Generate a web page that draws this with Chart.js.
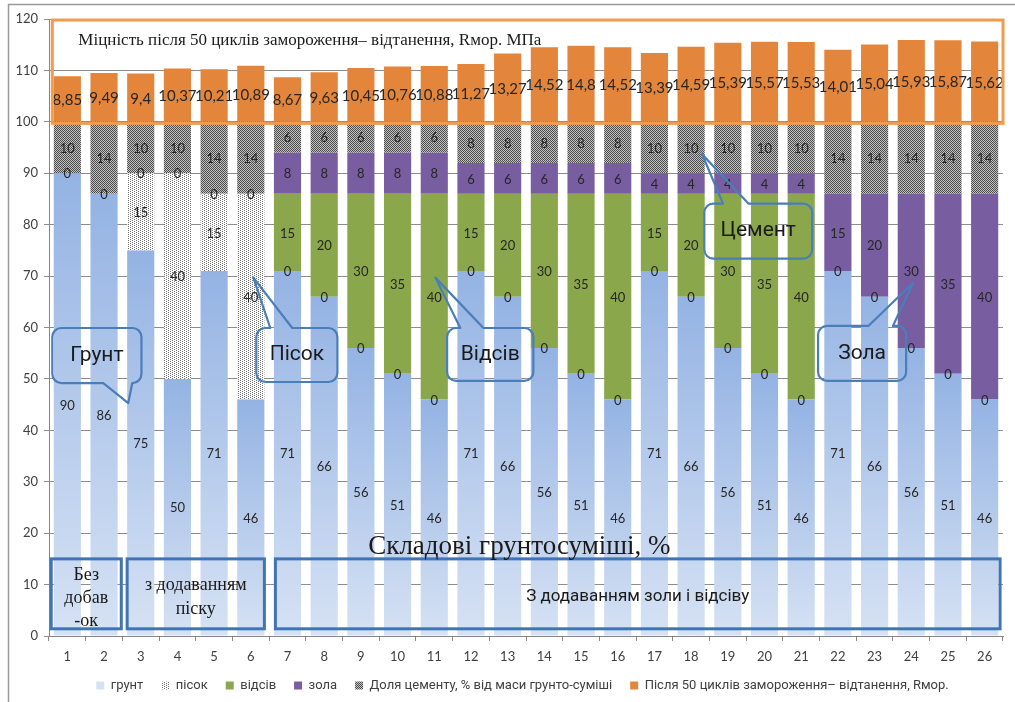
<!DOCTYPE html>
<html><head><meta charset="utf-8">
<script src="https://cdn.jsdelivr.net/npm/chart.js@4/dist/chart.umd.min.js"></script>
<style>html,body{margin:0;padding:0;background:#fff}#wrap{width:1015px;height:702px;position:relative}</style>
</head><body><div id="wrap"><canvas id="c"></canvas></div>
<script>
const categories = ['1','2','3','4','5','6','7','8','9','10','11','12','13','14','15','16','17','18','19','20','21','22','23','24','25','26'];
const grunt  = [90,86,75,50,71,46,71,66,56,51,46,71,66,56,51,46,71,66,56,51,46,71,66,56,51,46];
const pisok  = [0,0,15,40,15,40,0,0,0,0,0,0,0,0,0,0,0,0,0,0,0,0,0,0,0,0];
const vidsiv = [null,null,0,0,0,0,15,20,30,35,40,15,20,30,35,40,15,20,30,35,40,null,null,null,null,null];
const zola   = [null,null,null,null,null,null,8,8,8,8,8,6,6,6,6,6,4,4,4,4,4,15,20,30,35,40];
const cement = [10,14,10,10,14,14,6,6,6,6,6,8,8,8,8,8,10,10,10,10,10,14,14,14,14,14];
const strength = [8.85,9.49,9.4,10.37,10.21,10.89,8.67,9.63,10.45,10.76,10.88,11.27,13.27,14.52,14.8,14.52,13.39,14.59,15.39,15.57,15.53,14.01,15.04,15.93,15.87,15.62];
const seriesNames = ['грунт','пісок','відсів','зола','Доля цементу, % від маси грунто-суміші','Після 50 циклів замороження– відтанення, Rмор.'];
const yMin = 0, yMax = 120, yStep = 10;

const callouts = [
  {text:'Грунт',  box:[-0.41,59.9,2.02,49.2], edge:'bottom', base:[0.98,1.77],  tip:[1.66,45.3]},
  {text:'Пісок',  box:[5.15,59.9,7.36,49.4],  edge:'top',    base:[5.53,6.13],  tip:[5.07,69.7]},
  {text:'Відсів', box:[10.35,59.9,12.7,49.6], edge:'top',    base:[10.71,11.34],tip:[10.03,69.7]},
  {text:'Цемент', box:[17.36,84.1,20.3,73.4], edge:'top',    base:[17.87,18.56],tip:[17.3,93.7]},
  {text:'Зола',   box:[20.46,60.3,22.86,49.6],edge:'top',    base:[21.83,22.5], tip:[23.05,68.7]}
];
const groupBoxes = [
  {box:[-0.44,15,1.47,1.4], lines:['Без','добав','-ок'], dys:[-19,4,27], font:'18px "Liberation Serif", serif'},
  {box:[1.63,15,5.37,1.4],  lines:['з додаванням','піску'], dys:[-9,15], font:'18px "Liberation Serif", serif'},
  {box:[5.67,15,25.42,1.4], lines:['З додаванням золи і відсіву'], dys:[3], font:'17px Roboto, sans-serif'}
];
const strengthBox = {box:[-0.41,119.8,25.5,99.7], title:'Міцність після 50 циклів замороження– відтанення, Rмор. МПа', at:[0.3,115.9]};
const axisTitle = {text:'Складові грунтосуміші, %', at:[12.32,17.4]};

function makePattern(size, bg, fg, dots){
  const c = document.createElement('canvas'); c.width = c.height = size;
  const x = c.getContext('2d'); x.fillStyle = bg; x.fillRect(0,0,size,size);
  x.fillStyle = fg; dots.forEach(([a,b]) => x.fillRect(a,b,1,1));
  return x.createPattern(c,'repeat');
}
const sandPattern = makePattern(4,'#ffffff','#707070',[[0,0],[2,1],[0,2],[2,3]]);
const cementPattern = makePattern(2,'#c4c4c4','#4a4a4a',[[0,0],[1,1]]);

function gruntColor(ctx){
  const chart = ctx.chart;
  if (ctx.type !== 'data' || !chart.chartArea || !chart.scales.y) return '#9fbae6';
  const y = chart.scales.y;
  const top = y.getPixelForValue(ctx.raw), bot = y.getPixelForValue(0);
  if (!isFinite(top) || !isFinite(bot) || top === bot) return '#9fbae6';
  const g = chart.ctx.createLinearGradient(0, top, 0, bot);
  g.addColorStop(0,'#94b3e3'); g.addColorStop(1,'#d6e2f4');
  return g;
}

const fmtComma = v => String(v).replace('.', ',');

const valueLabels = {
  id:'valueLabels',
  afterDatasetsDraw(chart){
    const ctx = chart.ctx;
    chart.data.datasets.forEach((ds, di) => {
      const meta = chart.getDatasetMeta(di);
      if (meta.hidden) return;
      meta.data.forEach((bar, i) => {
        const v = ds.data[i];
        if (v === null || v === undefined) return;
        const p = bar.getProps(['x','y','base'], true);
        ctx.save();
        ctx.font = di === 5 ? '15px Lato, sans-serif' : '13px Lato, sans-serif';
        ctx.fillStyle = '#262626';
        ctx.textAlign = 'center'; ctx.textBaseline = 'middle';
        ctx.fillText(di === 5 ? fmtComma(v) : String(v), p.x, (p.y + p.base)/2 + 1);
        ctx.restore();
      });
    });
  }
};

function X(chart, v){ const s = chart.scales.x; const p0 = s.getPixelForValue(0), p1 = s.getPixelForValue(1); return p0 + v*(p1-p0); }
function Y(chart, v){ return chart.scales.y.getPixelForValue(v); }

function roundRectPath(ctx, x1, y1, x2, y2, r, c){
  ctx.beginPath();
  ctx.moveTo(x1 + r, y1);
  if (c.edge === 'top'){ ctx.lineTo(c.b1, y1); ctx.lineTo(c.tx, c.ty); ctx.lineTo(c.b2, y1); }
  ctx.lineTo(x2 - r, y1); ctx.arcTo(x2, y1, x2, y1 + r, r);
  ctx.lineTo(x2, y2 - r); ctx.arcTo(x2, y2, x2 - r, y2, r);
  if (c.edge === 'bottom'){ ctx.lineTo(c.b2, y2); ctx.lineTo(c.tx, c.ty); ctx.lineTo(c.b1, y2); }
  ctx.lineTo(x1 + r, y2); ctx.arcTo(x1, y2, x1, y2 - r, r);
  ctx.lineTo(x1, y1 + r); ctx.arcTo(x1, y1, x1 + r, y1, r);
  ctx.closePath();
}

const annotations = {
  id:'annotations',
  afterLayout(chart){
    if (chart.legend){ chart.legend.left += 21; chart.legend.right += 21; }
  },
  beforeDraw(chart){
    const ctx = chart.ctx;
    ctx.save(); ctx.strokeStyle = '#9a9a9a'; ctx.lineWidth = 1.5;
    ctx.beginPath(); ctx.moveTo(8.5, chart.height); ctx.lineTo(8.5, 4.5); ctx.lineTo(chart.width, 4.5); ctx.stroke();
    ctx.restore();
  },
  afterDraw(chart){
    const ctx = chart.ctx;
    ctx.save();
    const sb = strengthBox.box;
    ctx.strokeStyle = '#f39b4c'; ctx.lineWidth = 3;
    ctx.strokeRect(X(chart,sb[0]), Y(chart,sb[1]), X(chart,sb[2]) - X(chart,sb[0]), Y(chart,sb[3]) - Y(chart,sb[1]));
    ctx.fillStyle = '#1a1a1a'; ctx.font = '17px "Liberation Serif", serif'; ctx.textAlign = 'left'; ctx.textBaseline = 'middle';
    ctx.fillText(strengthBox.title, X(chart,strengthBox.at[0]), Y(chart,strengthBox.at[1]));
    groupBoxes.forEach(g => {
      const x1 = X(chart,g.box[0]), y1 = Y(chart,g.box[1]), x2 = X(chart,g.box[2]), y2 = Y(chart,g.box[3]);
      ctx.strokeStyle = '#3f74b6'; ctx.lineWidth = 3;
      ctx.strokeRect(x1, y1, x2-x1, y2-y1);
      ctx.fillStyle = '#1a1a1a'; ctx.font = g.font; ctx.textAlign = 'center'; ctx.textBaseline = 'middle';
      const cx = (x1+x2)/2, cy = (y1+y2)/2;
      g.lines.forEach((t,i) => ctx.fillText(t, cx, cy + g.dys[i]));
    });
    ctx.fillStyle = '#1a1a1a'; ctx.font = '27px "Liberation Serif", serif'; ctx.textAlign = 'center'; ctx.textBaseline = 'middle';
    ctx.fillText(axisTitle.text, X(chart,axisTitle.at[0]), Y(chart,axisTitle.at[1]));
    callouts.forEach(c => {
      const x1 = X(chart,c.box[0]), y1 = Y(chart,c.box[1]), x2 = X(chart,c.box[2]), y2 = Y(chart,c.box[3]);
      const geo = {edge:c.edge, b1:X(chart,c.base[0]), b2:X(chart,c.base[1]), tx:X(chart,c.tip[0]), ty:Y(chart,c.tip[1])};
      roundRectPath(ctx, x1, y1, x2, y2, 9, geo);
      ctx.strokeStyle = '#4a7ebb'; ctx.lineWidth = 2.2; ctx.lineJoin = 'round'; ctx.stroke();
      ctx.fillStyle = '#1a1a1a'; ctx.font = '21px Roboto, sans-serif'; ctx.textAlign = 'center'; ctx.textBaseline = 'middle';
      ctx.fillText(c.text, (x1+x2)/2, (y1+y2)/2);
    });
    ctx.restore();
  }
};

const common = {stack:'s', barPercentage:0.74, categoryPercentage:1.0, borderWidth:0};
new Chart(document.getElementById('c'), {
  type:'bar',
  data:{
    labels: categories,
    datasets:[
      {...common, label:seriesNames[0], data:grunt,  backgroundColor: gruntColor},
      {...common, label:seriesNames[1], data:pisok,  backgroundColor: sandPattern},
      {...common, label:seriesNames[2], data:vidsiv, backgroundColor:'#8aa74b'},
      {...common, label:seriesNames[3], data:zola,   backgroundColor:'#785da0'},
      {...common, label:seriesNames[4], data:cement, backgroundColor: cementPattern},
      {...common, label:seriesNames[5], data:strength, backgroundColor:'#e3853a'}
    ]
  },
  options:{
    responsive:true, maintainAspectRatio:false, animation:false,
    layout:{padding:{top:19, right:12, left:0, bottom:0}},
    scales:{
      x:{
        stacked:true,
        grid:{display:true, drawOnChartArea:false, drawTicks:true, tickLength:5, color:'#868686', offset:true},
        border:{display:true, color:'#868686'},
        ticks:{color:'#404040', font:{family:'Lato, sans-serif', size:13}, padding:8, maxRotation:0, autoSkip:false},
        afterFit(s){ s.height = 25; }
      },
      y:{
        stacked:true, min:yMin, max:yMax,
        grid:{color:'#8c8c8c', tickLength:5},
        border:{display:true, color:'#868686'},
        ticks:{stepSize:yStep, color:'#404040', font:{family:'Lato, sans-serif', size:13}, padding:6},
        afterFit(s){ s.width = 49; }
      }
    },
    plugins:{
      legend:{position:'bottom', labels:{boxWidth:8, boxHeight:8, padding:18, color:'#404040', font:{family:'Roboto, sans-serif', size:13}}},
      tooltip:{enabled:false}
    }
  },
  plugins:[valueLabels, annotations]
});
</script></body></html>
